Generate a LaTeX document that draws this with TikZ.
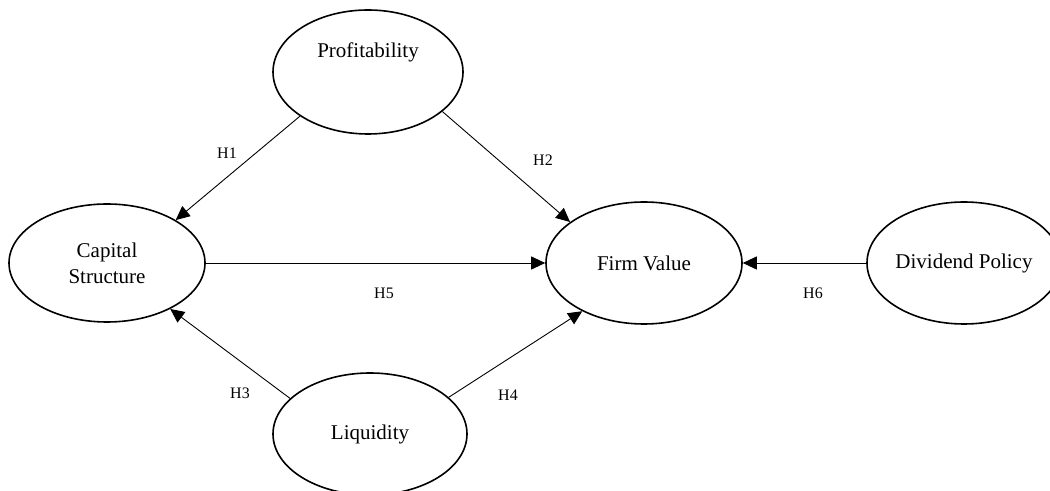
\documentclass[tikz,border=0pt]{standalone}
\usepackage{fontspec}
\setmainfont{Liberation Serif}
\usetikzlibrary{shapes.geometric,arrows.meta}

\begin{document}
\begin{tikzpicture}[
  x=0.5pt, y=-0.5pt,
  ovaltext/.style={font=\fontsize{10.5}{13}\selectfont, align=center},
  oval/.style={draw, ellipse, line width=0.8pt, inner sep=0pt, ovaltext},
  link/.style={-{Triangle[length=7pt,width=6.5pt]}, line width=0.45pt},
  hyp/.style={font=\fontsize{8}{9.6}\selectfont}
]
\useasboundingbox (0,0) rectangle (1050,491);

\node[oval, minimum width=95pt, minimum height=62pt,
  label={[ovaltext, yshift=10pt]center:Profitability}] (prof) at (368,72) {};
\node[oval, minimum width=98pt, minimum height=59pt] (capital) at (107,263) {Capital\\Structure};
\node[oval, minimum width=98pt, minimum height=61pt] (firm) at (644,263) {Firm Value};
\node[oval, minimum width=97pt, minimum height=61pt] (dividend) at (964,263) {Dividend Policy};
\node[oval, minimum width=97pt, minimum height=61pt] (liquid) at (370,434) {Liquidity};

\draw[link] (prof.213) -- (capital.32);
\draw[link] (prof.332) -- (firm.151);
\draw[link] (capital.east) -- (firm.west);
\draw[link] (liquid.156) -- (capital.324);
\draw[link] (liquid.25) -- (firm.218);
\draw[link] (dividend.west) -- (firm.east);

\node[hyp] (h1) at (227,153) {H1};
\node[hyp] (h2) at (543,160) {H2};
\node[hyp] (h5) at (384,293) {H5};
\node[hyp] (h3) at (240,393) {H3};
\node[hyp] (h4) at (508,395) {H4};
\node[hyp] (h6) at (813,293) {H6};
\end{tikzpicture}
\end{document}
